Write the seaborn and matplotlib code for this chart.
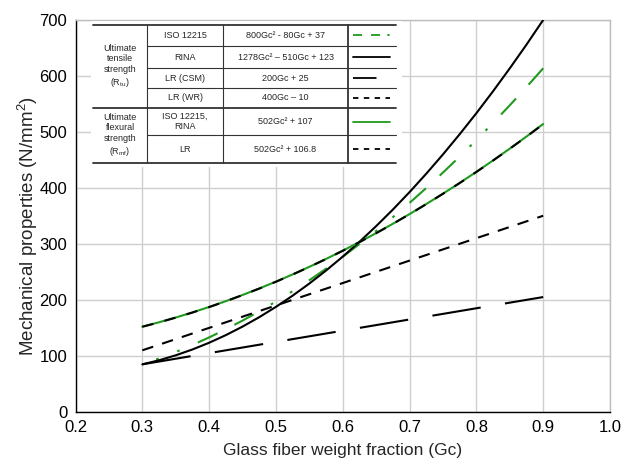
import numpy as np
import pandas as pd
import matplotlib
matplotlib.use("Agg")
import matplotlib.pyplot as plt
from matplotlib.lines import Line2D
from matplotlib.patches import Rectangle
from matplotlib.ticker import MultipleLocator, FormatStrFormatter
import seaborn as sns

sns.set_style("white")
plt.rcParams['font.family'] = ['Liberation Sans', 'DejaVu Sans']
plt.rcParams['mathtext.fontset'] = 'custom'
plt.rcParams['mathtext.rm'] = 'Liberation Sans'
plt.rcParams['mathtext.it'] = 'Liberation Sans'
plt.rcParams['mathtext.default'] = 'regular'

# ---- data ----
gc = [0.300, 0.325, 0.350, 0.375, 0.400, 0.425, 0.450, 0.475, 0.500, 0.525, 0.550, 0.575, 0.600,
      0.625, 0.650, 0.675, 0.700, 0.725, 0.750, 0.775, 0.800, 0.825, 0.850, 0.875, 0.900]
iso_tensile = [85, 95.5, 107, 119.5, 133, 147.5, 163, 179.5, 197, 215.5, 235, 255.5, 277,
               299.5, 323, 347.5, 373, 399.5, 427, 455.5, 485, 515.5, 547, 579.5, 613]
rina_tensile = [85.0, 92.2, 101.1, 111.5, 123.5, 137.1, 152.3, 169.1, 187.5, 207.5, 229.1, 252.3, 277.1,
                303.5, 331.5, 361.0, 392.2, 425.0, 459.4, 495.4, 532.9, 572.1, 612.9, 655.2, 699.2]
lr_csm = [85, 90, 95, 100, 105, 110, 115, 120, 125, 130, 135, 140, 145,
          150, 155, 160, 165, 170, 175, 180, 185, 190, 195, 200, 205]
lr_wr = [110, 120, 130, 140, 150, 160, 170, 180, 190, 200, 210, 220, 230,
         240, 250, 260, 270, 280, 290, 300, 310, 320, 330, 340, 350]
flex_iso = [152.2, 160.0, 168.5, 177.6, 187.3, 197.7, 208.7, 220.3, 232.5, 245.4, 258.9, 273.0, 287.7,
            303.1, 319.1, 335.7, 353.0, 370.9, 389.4, 408.5, 428.3, 448.7, 469.7, 491.3, 513.6]
flex_lr = [152.0, 159.8, 168.3, 177.4, 187.1, 197.5, 208.5, 220.1, 232.3, 245.2, 258.7, 272.8, 287.5,
           302.9, 318.9, 335.5, 352.8, 370.7, 389.2, 408.3, 428.1, 448.5, 469.5, 491.1, 513.4]

groups = ["Ultimate\ntensile\nstrength\n(R$_{tu}$)", "Ultimate\nflexural\nstrength\n(R$_{mf}$)"]
names = ["ISO 12215", "RINA", "LR (CSM)", "LR (WR)", "ISO 12215,\nRINA", "LR"]
formulas = ["800Gc² - 80Gc + 37", "1278Gc² – 510Gc + 123", "200Gc + 25",
            "400Gc – 10", "502Gc² + 107", "502Gc² + 106.8"]

GREEN = '#1f9a1f'
# (values, colour, plot linestyle, table-sample linestyle, draw from right end)
styles = [
    (iso_tensile, GREEN, (0, (10.5, 9, 10.5, 9.5, 1.3, 9.5, 1.3, 9.5)),
     (0, (5, 5, 5, 4, 1.3, 4, 1.3, 4)), True),
    (rina_tensile, 'black', '-', '-', False),
    (lr_csm, 'black', (0, (23.5, 11.8)), (0, (13, 10)), False),
    (lr_wr, 'black', (0, (5.5, 4.5)), (0, (3, 3)), False),
    (flex_iso, GREEN, '-', '-', False),
    (flex_lr, 'black', (0, (5.5, 5.5)), (0, (3, 3)), False),
]

fig = plt.figure(figsize=(6.37, 4.59), dpi=100)
ax = fig.add_axes([75.5 / 637, 47 / 459, 534.5 / 637, 392.5 / 459])

for vals, col, ls, _, rev in styles:
    xs, ys = (gc[::-1], vals[::-1]) if rev else (gc, vals)
    sns.lineplot(x=xs, y=ys, ax=ax, color=col, linestyle=ls, linewidth=1.5, zorder=3, sort=False)

ax.set_xlim(0.2, 1.0)
ax.set_ylim(0, 700)
ax.xaxis.set_major_locator(MultipleLocator(0.1))
ax.xaxis.set_minor_locator(MultipleLocator(0.02))
ax.yaxis.set_major_locator(MultipleLocator(100))
ax.yaxis.set_minor_locator(MultipleLocator(20))
ax.xaxis.set_major_formatter(FormatStrFormatter('%.1f'))
ax.grid(True, which='major', color='#cfcfcf', linewidth=1.0, zorder=0)
ax.set_axisbelow(True)
ax.tick_params(which='both', direction='in', top=False, right=False, labelsize=12,
               colors='black')
ax.tick_params(axis='x', which='major', pad=6)
ax.tick_params(axis='y', which='major', pad=6)
ax.tick_params(which='major', length=6, width=1)
ax.tick_params(which='minor', length=4, width=1)
for s in ['left', 'bottom']:
    ax.spines[s].set_color('black')
    ax.spines[s].set_linewidth(1.0)
for s in ['top', 'right']:
    ax.spines[s].set_color('#bdbdbd')
    ax.spines[s].set_linewidth(1.0)

ax.set_xlabel("Glass fiber weight fraction (Gc)", fontsize=12.5)
ax.xaxis.label.set_va('center')
ax.xaxis.set_label_coords(0.5, -0.097)
ax.set_ylabel("Mechanical properties (N/mm$^2$)", fontsize=13.5)
ax.yaxis.label.set_va('center')
ax.yaxis.set_label_coords(-0.089, 0.475)

# ---- table drawn in axes coordinates ----
T = ax.transAxes
xl, c1, c2, c3, xr = 0.0327, 0.1338, 0.276, 0.510, 0.600
rows = [0.986, 0.9325, 0.876, 0.8255, 0.7745, 0.7057, 0.634]
ax.add_patch(Rectangle((xl - 0.004, rows[-1] - 0.01), xr - xl + 0.014, rows[0] - rows[-1] + 0.02,
                       transform=T, facecolor='white', edgecolor='none', zorder=4))
lc = '#333333'
for y, lw in [(rows[0], 1.3), (rows[4], 1.3), (rows[6], 1.3)]:
    ax.add_line(Line2D([xl, xr], [y, y], transform=T, color=lc, lw=lw, zorder=5))
for y in [rows[1], rows[2], rows[3], rows[5]]:
    ax.add_line(Line2D([c1, xr], [y, y], transform=T, color=lc, lw=0.8, zorder=5))
for x, lw in [(c1, 0.8), (c2, 0.8), (c3, 1.3)]:
    ax.add_line(Line2D([x, x], [rows[-1], rows[0]], transform=T, color=lc, lw=lw, zorder=5))

fs = 6.5
ax.text((xl + c1) / 2, (rows[0] + rows[4]) / 2, groups[0], transform=T, ha='center', va='center',
        fontsize=fs, zorder=6, linespacing=1.25)
ax.text((xl + c1) / 2, (rows[4] + rows[6]) / 2, groups[1], transform=T, ha='center', va='center',
        fontsize=fs, zorder=6, linespacing=1.25)
for i in range(6):
    yc = (rows[i] + rows[i + 1]) / 2
    ax.text((c1 + c2) / 2, yc, names[i], transform=T, ha='center', va='center', fontsize=fs, zorder=6)
    ax.text((c2 + c3) / 2, yc, formulas[i], transform=T, ha='center', va='center', fontsize=fs, zorder=6)
    _, col, _, tls, _ = styles[i]
    ax.add_line(Line2D([c3 + 0.009, xr - 0.012], [yc, yc], transform=T, color=col,
                       lw=1.3, linestyle=tls, zorder=6))

fig.savefig("out.png", dpi=100)
